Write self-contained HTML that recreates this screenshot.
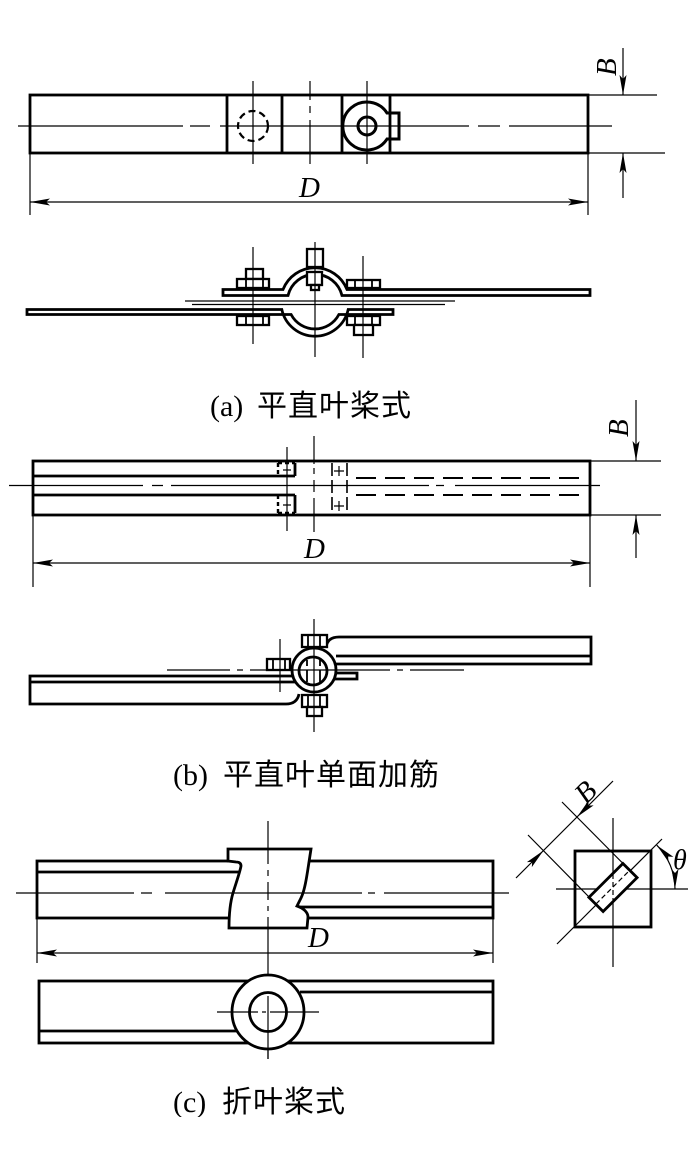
<!DOCTYPE html>
<html><head><meta charset="utf-8"><style>
html,body{margin:0;padding:0;background:#fff;}
svg{display:block;}
.tk{stroke:#000;stroke-width:2.8;fill:none;}
.tn{stroke:#000;stroke-width:1.2;fill:none;}
.wf{fill:#fff;}
.nut{stroke:#000;stroke-width:2.3;fill:#fff;}
.nl{stroke:#000;stroke-width:1.8;fill:none;}
.dim{font-family:"Liberation Serif",serif;font-style:italic;font-size:29px;fill:#000;}
.lab{font-family:"Liberation Serif",serif;font-size:30px;fill:#000;}
.cjk{font-family:"Liberation Sans","Noto Sans CJK SC",sans-serif;font-size:30px;letter-spacing:1px;fill:#000;}
</style></head><body>
<svg width="700" height="1165" viewBox="0 0 700 1165" xmlns="http://www.w3.org/2000/svg">
<defs><path id="ar" d="M0,0 L20,-3.5 L16,0 L20,3.5 Z" fill="#000"/></defs>
<rect width="700" height="1165" fill="#fff"/>

<!-- ===== (a) plan view ===== -->
<g class="tk">
 <rect x="30" y="95" width="558" height="58"/>
 <path d="M227,95 V153 M282,95 V153 M342,95 V153 M390,95 V153"/>
 <circle cx="253" cy="126" r="15" stroke-width="2.2" stroke-dasharray="7 4"/>
 <path d="M387,113 H399 V139 H387 A24,24 0 1 1 387,113 Z" stroke-width="3"/>
 <circle cx="367" cy="126" r="9" stroke-width="3"/>
</g>
<g class="tn">
 <path d="M18,126 H183 M190,126 H210 M220,126 H469 M478,126 H500 M509,126 H612"/>
 <path d="M253,81 V164 M310,81 V100 M310,106 V113 M310,120 V164 M367,81 V164"/>
 <path d="M588,95 H657 M588,153 H665 M623,48 V95 M623,153 V198"/>
 <path d="M30,153 V215 M588,153 V215 M30,202 H588"/>
</g>
<use href="#ar" transform="translate(30,202)"/>
<use href="#ar" transform="translate(588,202) rotate(180)"/>
<use href="#ar" transform="translate(623,95) rotate(-90)"/>
<use href="#ar" transform="translate(623,153) rotate(90)"/>
<text class="dim" x="299" y="197">D</text>
<text class="dim" transform="translate(616,76) rotate(-90)">B</text>

<!-- ===== (a) side view ===== -->
<path class="tk wf" d="M223,289.5 H283 A34.4,34.4 0 0 1 347,289.5 H590 V295.5 H342 A27.8,27.8 0 0 0 288,295.5 H223 Z"/>
<path class="tk wf" d="M27,309.5 H281.8 A34,34 0 0 0 348.2,309.5 H393 V314.5 H338.9 A27,27 0 0 1 291.1,314.5 H27 Z"/>
<!-- nuts -->
<rect class="nut" x="246" y="269" width="17" height="10"/>
<rect class="nut" x="237" y="279" width="32" height="9"/>
<rect class="nut" x="237" y="316" width="32" height="9"/>
<path class="nl" d="M246,279 V288 M263,279 V288 M246,316 V325 M263,316 V325"/>
<rect class="nut" x="307" y="249" width="16" height="18"/>
<rect class="nut" x="307" y="272" width="15" height="13"/>
<rect class="nut" x="311" y="285" width="8" height="5"/>
<rect class="nut" x="347" y="280" width="33" height="8"/>
<rect class="nut" x="347" y="316" width="33" height="9"/>
<rect class="nut" x="354" y="325" width="19" height="10"/>
<path class="nl" d="M355,280 V288 M372,280 V288 M355,316 V325 M372,316 V325"/>
<g class="tn">
 <path d="M253,247 V344 M315,242 V357 M363,256 V358"/>
 <path d="M185,301 H455 M192,304.5 H445"/>
</g>
<text class="lab" x="210" y="416">(a)</text>
<text class="cjk" x="257" y="416">平直叶桨式</text>

<!-- ===== (b) plan view ===== -->
<g class="tk">
 <rect x="33" y="461" width="557" height="54"/>
 <path d="M33,476 H295 M33,495 H295"/>
 <path d="M295,463 V476 M295,495 V513"/>
 <path d="M278,463 H295 M278,463 V476 M278,495 V513 M278,513 H295" stroke-width="2.4" stroke-dasharray="4 3"/>
 <path d="M356,478 H587 M356,495 H587" stroke-width="2" stroke-dasharray="20 9"/>
</g>
<g class="tn">
 <path d="M9,485.5 H143 M152,485.5 H163 M171,485.5 H429 M436,485.5 H444 M455,485.5 H600"/>
 <path d="M287,447 V531"/>
 <path d="M314,436 V464 M314,468 V474 M314,480 V492 M314,498 V532"/>
 <path d="M332,463 V513 M347,463 V513" stroke-width="1.6" stroke-dasharray="13 4"/>
 <path d="M334,471 H344 M339,466 V476 M334,506 H344 M339,501 V511"/>
 <path d="M283,470 H291 M283,505 H291"/>
 <path d="M590,461 H661 M590,515 H661 M636,400 V461 M636,515 V558"/>
 <path d="M33,515 V587 M590,515 V587 M33,563 H590"/>
</g>
<use href="#ar" transform="translate(33,563)"/>
<use href="#ar" transform="translate(590,563) rotate(180)"/>
<use href="#ar" transform="translate(636,461) rotate(-90)"/>
<use href="#ar" transform="translate(636,515) rotate(90)"/>
<text class="dim" x="304" y="558">D</text>
<text class="dim" transform="translate(628,437) rotate(-90)">B</text>

<!-- ===== (b) side view ===== -->
<path class="tk wf" d="M300,676 H30 V704 H286 Q297,704 299,694"/>
<path class="tk" d="M30,682 H300"/>
<path class="tk wf" d="M330,673 H357 V679 H330"/>
<path class="tk wf" d="M326,648 Q327,637 339,637 H591 V664 H333"/>
<path class="tk" d="M336,656 H591"/>
<circle class="tk wf" cx="314" cy="670" r="22"/>
<circle class="tk" cx="313" cy="671" r="14"/>
<path class="nl" d="M307,660 V666 M307,670 V682 M320,660 V666 M320,670 V682"/>
<rect class="nut" x="302" y="635" width="25" height="12"/>
<path class="nl" d="M308,635 V647 M320,635 V647"/>
<rect class="nut" x="302" y="695" width="25" height="12"/>
<path class="nl" d="M308,695 V707 M320,695 V707"/>
<rect class="nut" x="307" y="707" width="15" height="9"/>
<rect class="nut" x="267" y="659" width="23" height="11"/>
<path class="nl" d="M273,659 V670 M285,659 V670"/>
<g class="tn">
 <path d="M314,619 V732 M280,639 V692"/>
 <path d="M167,670 H230 M237,670 H243 M250,670 H390 M397,670 H403 M410,670 H464"/>
</g>
<text class="lab" x="173" y="785">(b)</text>
<text class="cjk" x="223" y="785">平直叶单面加筋</text>

<!-- ===== (c) top view ===== -->
<g class="tk">
 <rect x="37" y="861" width="456" height="57"/>
 <path d="M37,872 H240 M297,907 H493"/>
 <path class="wf" d="M228,849 H311 L309,862 C307,875 305,890 301,898 L297,906 C303,908 308,912 308,917 L307,928 H229 C229,915 230,903 233,893 C236,883 240,872 241,866 C241,863 239,862 236,862 L228,861 Z"/>
</g>
<g class="tn">
 <path d="M16,893 H134 M141,893 H152 M165,893 H362 M368,893 H375 M384,893 H509"/>
 <path d="M268,821 V864 M268,870 V876 M268,882 V900 M268,906 V911 M268,917 V996 M268,1002 V1006 M268,1012 V1059"/>
 <path d="M37,918 V963 M493,918 V963 M37,953 H493"/>
</g>
<use href="#ar" transform="translate(37,953)"/>
<use href="#ar" transform="translate(493,953) rotate(180)"/>
<text class="dim" x="308" y="947">D</text>

<!-- ===== (c) bottom view ===== -->
<g class="tk">
 <rect x="39" y="981" width="454" height="62"/>
 <path d="M39,1031 H240 M300,992 H493"/>
 <ellipse class="wf" cx="268" cy="1012" rx="36" ry="37"/>
 <ellipse cx="268" cy="1012" rx="18.5" ry="19.5"/>
</g>
<g class="tn">
 <path d="M217,1012 H258 M262,1012 H266 M270,1012 H319"/>
 <path d="M268,996 V1059"/>
</g>

<!-- ===== (c) section square ===== -->
<g class="tn">
 <path d="M557,944 L662,839"/>
 <path d="M556,889 H688"/>
 <path d="M613,818 V967"/>
 <path d="M528,835 L589,897 M562,802 L623,863.5"/>
 <path d="M516,878 L613,781"/>
 <path d="M656.8,845.2 A62,62 0 0 1 675,889"/>
</g>
<rect class="tk" x="575" y="851" width="76" height="76" stroke-width="3"/>
<path class="tk wf" d="M637.1,877.6 L622.9,863.5 L588.9,897.4 L603.1,911.5 Z" stroke-width="3"/>
<path class="tn" d="M596,904 L630,870 M613,874 V900" stroke-dasharray="5 3"/>
<use href="#ar" transform="translate(543.5,850.5) rotate(135)"/>
<use href="#ar" transform="translate(577,817) rotate(-45)"/>
<use href="#ar" transform="translate(656.8,845.2) rotate(45)"/>
<use href="#ar" transform="translate(675,889) rotate(-90)"/>
<text class="dim" transform="translate(586,805) rotate(-45)">B</text>
<text class="dim" x="673" y="869" style="font-size:28px">θ</text>

<text class="lab" x="173" y="1112">(c)</text>
<text class="cjk" x="222" y="1112">折叶桨式</text>
<rect x="0" y="1117" width="700" height="48" fill="#fff"/>
</svg>
</body></html>
